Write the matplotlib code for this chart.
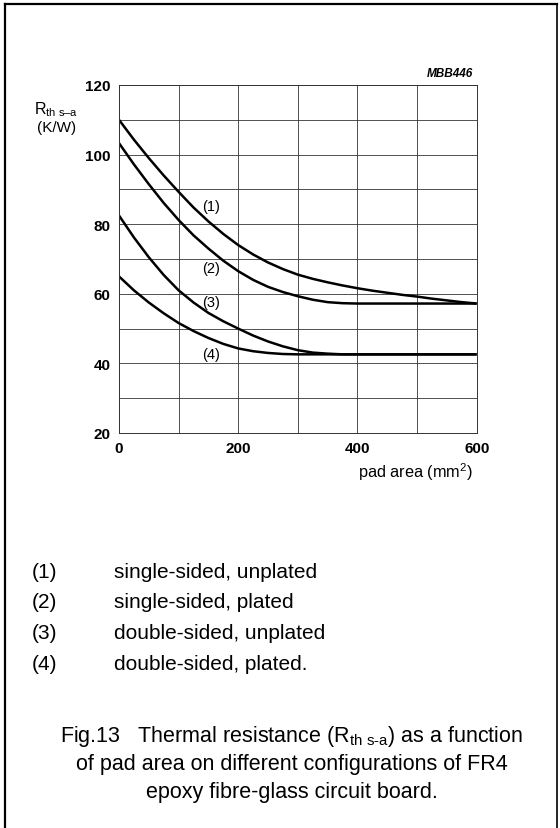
import numpy as np
import matplotlib
matplotlib.use("Agg")
import matplotlib.pyplot as plt

plt.rcParams['font.family'] = ['Liberation Sans', 'DejaVu Sans']
plt.rcParams['mathtext.fontset'] = 'custom'
plt.rcParams['mathtext.rm'] = 'Liberation Sans'
plt.rcParams['mathtext.it'] = 'Liberation Sans:italic'
plt.rcParams['mathtext.bf'] = 'Liberation Sans:bold'

# pad area (mm2)
pad_area = [0, 25, 50, 75, 100, 125, 150, 175, 200, 225, 250, 275, 300,
            325, 350, 375, 400, 425, 450, 475, 500, 525, 550, 575, 600]
# thermal resistance (K/W)
rth_single_unplated = [110, 104.3, 99, 94, 89.3, 84.8, 80.8, 77.2, 74, 71.3, 69, 67.1, 65.5,
                       64.3, 63.3, 62.4, 61.6, 60.9, 60.3, 59.7, 59.2, 58.6, 58.1, 57.6, 57.2]
rth_single_plated = [103.3, 97.2, 91.5, 86.1, 81.2, 76.8, 73, 69.5, 66.5, 64, 62, 60.5, 59.3,
                     58.3, 57.6, 57.3, 57.2, 57.2, 57.2, 57.2, 57.2, 57.2, 57.2, 57.2, 57.2]
rth_double_unplated = [82.5, 76.2, 70.5, 65.4, 61, 57.5, 54.5, 52.1, 50, 48, 46.3, 44.9, 43.8,
                       43.1, 42.8, 42.6, 42.6, 42.6, 42.6, 42.6, 42.6, 42.6, 42.6, 42.6, 42.6]
rth_double_plated = [65, 61, 57.5, 54.4, 51.6, 49.3, 47.3, 45.6, 44.3, 43.5, 43, 42.7, 42.6,
                     42.6, 42.6, 42.6, 42.6, 42.6, 42.6, 42.6, 42.6, 42.6, 42.6, 42.6, 42.6]

curve_ids = ['(1)', '(2)', '(3)', '(4)']
curve_names = ['single-sided, unplated', 'single-sided, plated',
               'double-sided, unplated', 'double-sided, plated.']
label_pos = [(155, 85.3), (155, 67.4), (155, 57.6), (155, 42.8)]

x_ticks = [0, 200, 400, 600]
y_ticks = [20, 40, 60, 80, 100, 120]

W, H = 560, 829
fig = plt.figure(figsize=(W / 100, H / 100), dpi=100)

# outer frame (open at the bottom)
fig.add_artist(plt.Line2D([5 / W, 5 / W], [0, 1 - 5 / H], color='black', lw=1.6,
                          transform=fig.transFigure))
fig.add_artist(plt.Line2D([557 / W, 557 / W], [0, 1 - 5 / H], color='black', lw=1.2,
                          transform=fig.transFigure))
fig.add_artist(plt.Line2D([5 / W, 557 / W], [1 - 5 / H, 1 - 5 / H], color='black', lw=1.6,
                          transform=fig.transFigure))

ax = fig.add_axes([119 / W, 1 - 434 / H, (476.7 - 119) / W, (434 - 86) / H])

for ys in [rth_single_unplated, rth_single_plated, rth_double_unplated, rth_double_plated]:
    ax.plot(pad_area, ys, color='black', lw=1.8, solid_capstyle='butt')

for lab, (lx, ly) in zip(curve_ids, label_pos):
    ax.text(lx, ly, lab, fontsize=10.5, ha='center', va='center')

ax.set_xlim(0, 600)
ax.set_ylim(20, 120)
ax.set_xticks(x_ticks)
ax.set_yticks(y_ticks)
ax.set_xticks(np.arange(0, 601, 100), minor=True)
ax.set_yticks(np.arange(20, 121, 10), minor=True)
ax.grid(which='both', color='#333333', lw=0.6)
ax.tick_params(which='both', length=0, labelsize=11, pad=6)
for lbl in ax.get_xticklabels() + ax.get_yticklabels():
    lbl.set_fontweight('bold')
for s in ax.spines.values():
    s.set_linewidth(0.7)
    s.set_color('#333333')

fig.text(34 / W, 1 - 110 / H, 'R$_{\\rm th\\ s–a}$', fontsize=11.5,
         ha='left', va='center')
fig.text(37 / W, 1 - 128 / H, '(K/W)', fontsize=11,
         ha='left', va='center')
fig.text(473 / W, 1 - 74 / H, 'MBB446', fontsize=8.5, fontweight='bold',
         style='italic', ha='right', va='center')
fig.text(415 / W, 1 - 472 / H, 'pad area (mm$^2$)', fontsize=11.7,
         ha='center', va='center')

for i, (cid, name) in enumerate(zip(curve_ids, curve_names)):
    y = 572 + i * 31
    fig.text(32 / W, 1 - y / H, cid, fontsize=15, ha='left', va='center')
    fig.text(114 / W, 1 - y / H, name, fontsize=15, ha='left', va='center')

caption = ['Fig.13   Thermal resistance (R$_{\\text{th s-a}}$) as a function',
           'of pad area on different configurations of FR4',
           'epoxy fibre-glass circuit board.']
for i, line in enumerate(caption):
    fig.text(292 / W, 1 - (737 + i * 28) / H, line, fontsize=15.5,
             ha='center', va='center')

fig.savefig('out.png', dpi=100)
